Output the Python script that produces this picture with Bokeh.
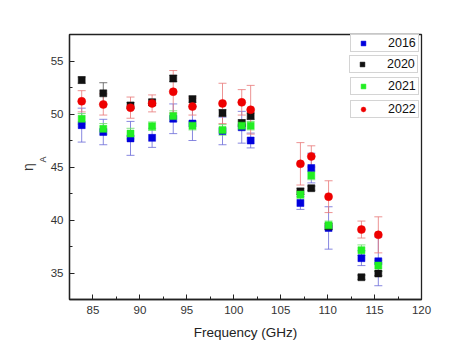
from bokeh.plotting import figure
from bokeh.models import (ColumnDataSource, Whisker, TeeHead, Legend, LegendItem,
                          Range1d, SingleIntervalTicker, Title)
from bokeh.embed import file_html
from bokeh.resources import INLINE

freq = [83.8, 86.1, 89.0, 91.3, 93.55, 95.6, 98.8, 100.85, 101.8, 107.1, 108.26, 110.1, 113.6, 115.4]
y2016 = [48.95, 48.3, 47.7, 47.75, 49.55, 49.1, 48.4, 48.75, 47.5, 41.6, 44.9, 39.25, 36.4, 36.1]
y2020 = [53.2, 51.95, 50.8, 51.1, 53.35, 51.4, 50.1, 49.15, 49.8, 42.7, 43.0, 39.4, 34.6, 34.95]
y2021 = [49.55, 48.6, 48.15, 48.85, 49.8, 48.9, 48.5, 48.9, 48.9, 42.4, 44.2, 39.5, 37.15, 35.7]
y2022 = [51.2, 50.9, 50.6, 51.0, 52.1, 50.7, 51.0, 51.1, 50.4, 45.3, 46.0, 42.2, 39.1, 38.6]
e2016 = [1.6, 1.2, 1.6, 0.9, 1.4, 1.6, 1.3, 1.5, 0.7, 0.6, 1.4, 2.0, 0.7, 2.3]
e2020 = [0.3, 1.0, 0.3, 0.3, 0.3, 0.3, 0.3, 0.3, 0.3, 0.3, 0.2, 0.3, 0.2, 0.2]
e2021 = [0.5, 0.5, 0.5, 0.4, 0.5, 0.4, 0.5, 0.4, 0.4, 0.4, 0.4, 0.4, 0.5, 0.5]
e2022 = [1.0, 1.0, 1.0, 0.8, 2.0, 0.8, 1.9, 1.2, 2.3, 2.0, 1.0, 1.5, 0.8, 1.7]
series_names = ["2016", "2020", "2021", "2022"]

FONT = "Liberation Sans"

p = figure(width=452, height=342, output_backend="svg", toolbar_location=None,
           x_range=Range1d(82.5, 120), y_range=Range1d(32.5, 57.5),
           min_border_left=69, min_border_right=31, min_border_top=34, min_border_bottom=39)
p.xgrid.visible = False
p.ygrid.visible = False
p.outline_line_color = "#222222"
p.outline_line_width = 1.3

for ax in (p.xaxis[0], p.yaxis[0]):
    ax.ticker = SingleIntervalTicker(interval=5, num_minor_ticks=2)
    ax.major_tick_in = 5
    ax.major_tick_out = 0
    ax.minor_tick_in = 3
    ax.minor_tick_out = 0
    ax.axis_line_color = "#222222"
    ax.axis_line_width = 1.3
    ax.major_tick_line_color = "#222222"
    ax.minor_tick_line_color = "#222222"
    ax.major_label_text_font = FONT
    ax.major_label_text_font_size = "11.5px"
    ax.major_label_text_color = "#333333"
    ax.major_label_standoff = 6

p.xaxis.axis_label = "Frequency (GHz)"
p.xaxis.axis_label_text_font = FONT
p.xaxis.axis_label_text_font_size = "13.5px"
p.xaxis.axis_label_text_font_style = "normal"
p.xaxis.axis_label_text_color = "#222222"
p.xaxis.axis_label_standoff = 8

# y-axis label eta_A (subscript A placed nearer the axis, shifted up along the text)
p.add_layout(Title(text="\u00a0\u00a0\u00a0\u00a0\u00a0\u00a0A", align="center", standoff=0,
                   text_font=FONT, text_font_size="9px", text_font_style="normal",
                   text_color="#333333"), "left")
p.add_layout(Title(text="η", align="center", standoff=0,
                   text_font=FONT, text_font_size="14px", text_font_style="normal",
                   text_color="#333333"), "left")

marker_cols = ["#0000DD", "#111111", "#22EE22", "#EE0000"]
err_cols = ["#6A6AD8", "#555555", "#66DD66", "#E87878"]
markers = ["square", "square", "square", "circle"]
sizes = [7, 7, 7, 8]
ys = [y2016, y2020, y2021, y2022]
es = [e2016, e2020, e2021, e2022]

sources = []
for y, e in zip(ys, es):
    src = ColumnDataSource(dict(x=freq, y=y,
                                upper=[a + b for a, b in zip(y, e)],
                                lower=[a - b for a, b in zip(y, e)]))
    sources.append(src)

for src, ec in zip(sources, err_cols):
    w = Whisker(source=src, base="x", upper="upper", lower="lower",
                line_color=ec, line_width=1, line_alpha=0.8,
                upper_head=TeeHead(size=8, line_color=ec, line_width=1, line_alpha=0.8),
                lower_head=TeeHead(size=8, line_color=ec, line_width=1, line_alpha=0.8))
    p.add_layout(w)

renderers = []
for src, mc, mk, sz in zip(sources, marker_cols, markers, sizes):
    r = p.scatter("x", "y", source=src, marker=mk, size=sz, fill_color=mc,
                  line_color=mc, line_width=0.5)
    renderers.append(r)

legend_pos = [(281, 247), (280, 226), (281, 204), (281, 181)]
for name, r, pos in zip(series_names, renderers, legend_pos):
    lg = Legend(items=[LegendItem(label=name, renderers=[r])], location=pos,
                orientation="vertical", padding=1, margin=0, spacing=0,
                glyph_width=22, glyph_height=12, label_standoff=14,
                label_width=29, label_height=12, label_text_font=FONT,
                label_text_font_size="12.5px",
                label_text_color="#111111", border_line_color="#aaaaaa",
                border_line_width=1, background_fill_alpha=1.0)
    p.add_layout(lg, "center")

open("out.html", "w").write(file_html(p, INLINE))
